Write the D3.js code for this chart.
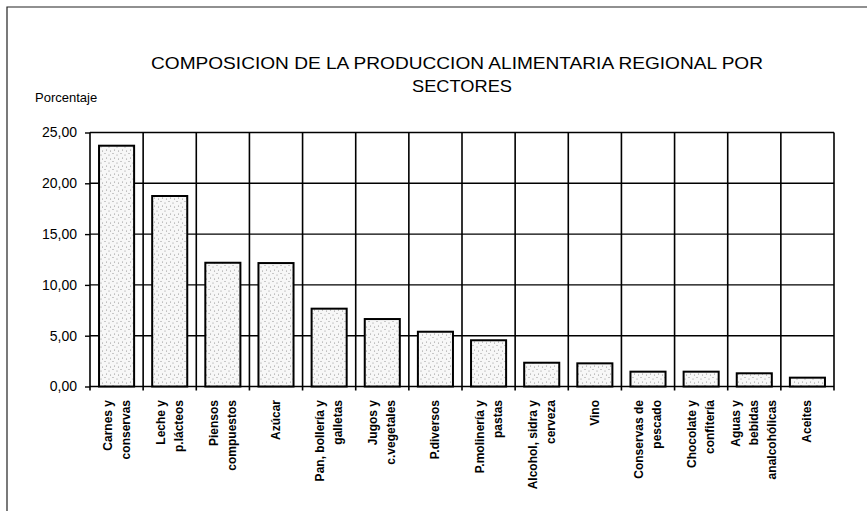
<!DOCTYPE html>
<html>
<head>
<meta charset="utf-8">
<script src="https://cdn.jsdelivr.net/npm/d3@7"></script>
<style>
  body { margin: 0; background: #fff; }
  text { font-family: "Liberation Sans", Arial, sans-serif; fill: #000; }
</style>
</head>
<body>
<svg></svg>
<script>
// sectors, in the order of the chart
const sectors = [
  ["Carnes y", "conservas"],
  ["Leche y", "p.lácteos"],
  ["Piensos", "compuestos"],
  ["Azúcar"],
  ["Pan, bollería y", "galletas"],
  ["Jugos y", "c.vegetales"],
  ["P.diversos"],
  ["P.molinería y", "pastas"],
  ["Alcohol, sidra y", "cerveza"],
  ["Vino"],
  ["Conservas de", "pescado"],
  ["Chocolate y", "confitería"],
  ["Aguas y", "bebidas", "analcohólicas"],
  ["Aceites"]
]
// percentage of regional food production
const percentages = [23.7, 18.75, 12.18, 12.15, 7.66, 6.64, 5.39, 4.55, 2.34, 2.28, 1.46, 1.46, 1.30, 0.87]
const yTicks = [0, 5, 10, 15, 20, 25]

const width = 867,
      height = 511,
      plotL = 90, plotR = 834,
      plotT = 132.5, plotB = 386.5

const svg = d3.select("svg")
  .attr("width", width)
  .attr("height", height)

// dotted fill like the printed original
const defs = svg.append("defs")
const pat = defs.append("pattern")
  .attr("id", "dots")
  .attr("patternUnits", "userSpaceOnUse")
  .attr("width", 8).attr("height", 8)
pat.append("rect").attr("width", 8).attr("height", 8).attr("fill", "#f7f7f7")
const dotPos = [[1, 1.5], [5, 3], [2.5, 6], [6.5, 7]]
pat.selectAll("circle").data(dotPos).join("circle")
  .attr("cx", d => d[0]).attr("cy", d => d[1]).attr("r", 0.55)
  .attr("fill", "#888")

// outer frame (scanned page edge)
svg.append("path")
  .attr("d", `M7,${height} V7 H${width}`)
  .attr("fill", "none").attr("stroke", "#222").attr("stroke-width", 1.2)

const x = d3.scaleBand()
  .domain(d3.range(sectors.length))
  .range([plotL, plotR])
  .paddingInner(0.34)
  .paddingOuter(0.17)

const y = d3.scaleLinear()
  .domain([0, 25])
  .range([plotB, plotT])

const step = x.step()
const bounds = d3.range(sectors.length + 1).map(i => plotL + i * step)

// grid
svg.append("g")
  .selectAll("line")
  .data(yTicks)
  .join("line")
    .attr("x1", plotL).attr("x2", plotR)
    .attr("y1", d => y(d)).attr("y2", d => y(d))
    .attr("stroke", "#000").attr("stroke-width", 1.4)

svg.append("g")
  .selectAll("line")
  .data(bounds)
  .join("line")
    .attr("x1", d => d).attr("x2", d => d)
    .attr("y1", plotT).attr("y2", plotB + 4)
    .attr("stroke", "#000").attr("stroke-width", 1.6)

// y axis
const yAxis = d3.axisLeft(y)
  .tickValues(yTicks)
  .tickSize(5)
  .tickPadding(8)
  .tickFormat(d => d3.format(".2f")(d).replace(".", ","))

svg.append("g")
  .attr("transform", `translate(${plotL},0)`)
  .call(yAxis)
  .call(g => g.select(".domain").remove())
  .call(g => g.selectAll("line").attr("stroke-width", 1.4))
  .call(g => g.selectAll("text")
    .style("font-family", "Liberation Sans, Arial, sans-serif")
    .attr("font-size", 14))

// bars
svg.append("g")
  .selectAll("rect")
  .data(percentages)
  .join("rect")
    .attr("x", (d, i) => x(i))
    .attr("width", x.bandwidth())
    .attr("y", d => y(d))
    .attr("height", d => y(0) - y(d))
    .attr("fill", "url(#dots)")
    .attr("stroke", "#000")
    .attr("stroke-width", 2)

// category labels, rotated
const lineGap = 18
const lab = svg.append("g")
  .selectAll("text")
  .data(sectors)
  .join("text")
    .attr("font-size", 12)
    .attr("font-weight", "bold")
    .attr("text-anchor", "end")
    .attr("transform", (d, i) => `translate(${x(i) + x.bandwidth() / 2},400) rotate(-90)`)

lab.selectAll("tspan")
  .data(d => d.map((t, j) => ({ t, off: (j - (d.length - 1) / 2) * lineGap })))
  .join("tspan")
    .attr("x", 0)
    .attr("y", d => d.off + 4)
    .text(d => d.t)

// titles
svg.append("text")
  .attr("x", 457).attr("y", 69)
  .attr("text-anchor", "middle")
  .attr("font-size", 17)
  .attr("textLength", 612)
  .attr("lengthAdjust", "spacingAndGlyphs")
  .text("COMPOSICION DE LA PRODUCCION ALIMENTARIA REGIONAL POR")

svg.append("text")
  .attr("x", 462).attr("y", 92)
  .attr("text-anchor", "middle")
  .attr("font-size", 17)
  .attr("textLength", 100)
  .attr("lengthAdjust", "spacingAndGlyphs")
  .text("SECTORES")

svg.append("text")
  .attr("x", 35).attr("y", 102)
  .attr("font-size", 13)
  .text("Porcentaje")
</script>
</body>
</html>
